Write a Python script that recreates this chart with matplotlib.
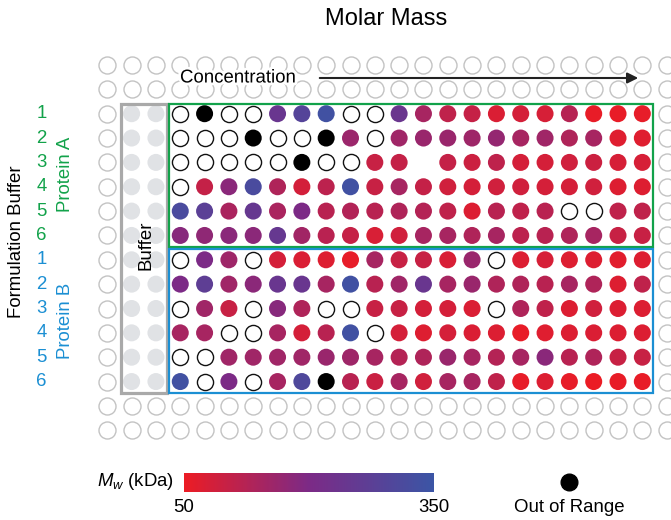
import numpy as np
import matplotlib
matplotlib.use("Agg")
import matplotlib.pyplot as plt
import matplotlib.patheffects as pe
from matplotlib.colors import LinearSegmentedColormap, Normalize
from matplotlib.cm import ScalarMappable
from matplotlib.patches import Rectangle

plt.rcParams['font.family'] = ['Liberation Sans', 'DejaVu Sans']
plt.rcParams['mathtext.fontset'] = 'custom'
plt.rcParams['mathtext.rm'] = 'Liberation Sans'
plt.rcParams['mathtext.it'] = 'Liberation Sans:italic'

# plate layout (384 wells)
n_rows, n_cols = 16, 24
buffer_cols = [1, 2]
data_col0 = 3
row0_a = 2
row0_b = 8

# well codes
E = np.nan    # no result -> open circle
O = np.inf    # out of range -> black
S = -1        # no well drawn

# molar mass (kDa), one row per formulation buffer, 20 concentrations
protein_a = [
    [E, O, E, E, 243, 290, 335, E, E, 240, 143, 110, 102, 75, 82, 80, 122, 55, 55, 58],
    [E, E, E, O, E, E, O, 158, E, 153, 161, 161, 155, 168, 143, 153, 132, 143, 68, 68],
    [E, E, E, E, E, O, E, E, 100, 105, S, 105, 94, 112, 82, 82, 88, 94, 80, 80],
    [E, 105, 182, 316, 132, 85, 115, 335, 100, 143, 105, 88, 82, 88, 88, 82, 82, 88, 70, 70],
    [316, 275, 138, 250, 138, 200, 120, 128, 120, 132, 126, 110, 72, 120, 110, 118, E, E, 110, 110],
    [185, 175, 182, 180, 250, 150, 118, 102, 78, 88, 143, 143, 132, 143, 115, 120, 132, 143, 100, 100],
]
protein_b = [
    [E, 200, 155, E, 82, 75, 70, 58, 143, 100, 100, 78, 161, E, 72, 80, 70, 70, 65, 70],
    [200, 270, 153, 180, 243, 243, 143, 335, 120, 153, 243, 143, 161, 132, 132, 120, 143, 132, 70, 110],
    [E, 153, 100, E, 185, 132, E, E, 100, 100, 82, 82, 75, E, 132, 110, 72, 88, 72, 72],
    [143, 143, E, E, 143, 82, 120, 335, E, 82, 70, 82, 75, 72, 55, 68, 72, 75, 72, 72],
    [E, E, 153, 153, 153, 153, 161, 155, 143, 126, 132, 161, 143, 126, 143, 182, 120, 132, 100, 100],
    [335, E, 200, E, 143, 302, O, 120, 98, 143, 88, 143, 143, 110, 58, 72, 58, 52, 55, 55],
]
buffer_labels = ["1", "2", "3", "4", "5", "6"]
vmin, vmax = 50, 350

green = "#12a24a"
blue = "#1b8fd3"
cmap = LinearSegmentedColormap.from_list("mw", ["#ec1c24", "#7c2a86", "#3b55a5"])
norm = Normalize(vmin, vmax)
fs = 13.4

W, H = 671, 520
fig = plt.figure(figsize=(W / 100, H / 100), dpi=100)
ax = fig.add_axes([0, 0, 1, 1])
dx, dy = 24.32, 24.35
x0, y0 = 107.3, 65.0
ax.set_xlim(-x0 / dx, (W - x0) / dx)
ax.set_ylim((H - y0) / dy, -y0 / dy)
ax.axis("off")

def fx(x):
    return x / W

def fy(y):
    return 1 - y / H

data = np.vstack([np.array(protein_a, float), np.array(protein_b, float)])
data_rows = np.arange(row0_a, row0_a + data.shape[0])
data_cols = np.arange(data_col0, data_col0 + data.shape[1])

# empty plate wells
gx, gy, bx, by = [], [], [], []
for r in range(n_rows):
    for c in range(n_cols):
        in_data = r in data_rows and c in data_cols
        if in_data:
            continue
        if c in buffer_cols and r in data_rows:
            bx.append(c); by.append(r)
        else:
            gx.append(c); gy.append(r)
ax.scatter(gx, gy, s=150, facecolor="white", edgecolor="#c3c3c3", linewidth=1.0, zorder=2)
ax.scatter(bx, by, s=150, facecolor="#e0e2e5", edgecolor="none", zorder=2)

# sample wells
cc, rr = np.meshgrid(data_cols, data_rows)
cc, rr, vals = cc.ravel(), rr.ravel(), data.ravel()
good = np.isfinite(vals) & (vals >= 0)
ax.scatter(cc[good], rr[good], c=vals[good], cmap=cmap, norm=norm, s=150,
           edgecolor="none", zorder=3)
empty = np.isnan(vals)
ax.scatter(cc[empty], rr[empty], s=135, facecolor="white", edgecolor="#111111",
           linewidth=1.0, zorder=3)
oor = np.isinf(vals)
ax.scatter(cc[oor], rr[oor], s=150, color="black", edgecolor="none", zorder=3)

# boxes
ax.add_patch(Rectangle((0.56, 1.6), 1.88, 11.87, fill=False, edgecolor="#a9a9a9",
                       linewidth=2.3, zorder=4))
ax.add_patch(Rectangle((2.54, 1.6), 19.89, 5.87, fill=False, edgecolor=green,
                       linewidth=1.6, zorder=4))
ax.add_patch(Rectangle((2.54, 7.56), 19.89, 5.91, fill=False, edgecolor=blue,
                       linewidth=1.6, zorder=4))

# texts
white = [pe.withStroke(linewidth=4, foreground="white")]
fig.text(fx(386), fy(19), "Molar Mass", ha="center", va="center", fontsize=17)
fig.text(fx(180), fy(78), "Concentration", ha="left", va="center", fontsize=fs,
         path_effects=white, zorder=5)
ax.annotate("", xy=(fx(641), fy(78)), xytext=(fx(317), fy(78)),
            xycoords="figure fraction", textcoords="figure fraction",
            arrowprops=dict(arrowstyle="-|>", color="#222222", lw=1.5,
                            mutation_scale=16), zorder=5)
fig.text(fx(146), fy(245), "Buffer", rotation=90, ha="center", va="center",
         fontsize=fs, zorder=5)
fig.text(fx(17), fy(242), "Formulation Buffer", rotation=90, ha="center",
         va="center", fontsize=fs)
for i, lab in enumerate(buffer_labels):
    ax.text(-2.7, row0_a + i, lab, color=green, ha="center", va="center", fontsize=fs)
    ax.text(-2.7, row0_b + i, lab, color=blue, ha="center", va="center", fontsize=fs)
ax.text(-1.7, row0_a + 2.5, "Protein A", color=green, rotation=90, ha="center",
        va="center", fontsize=fs)
ax.text(-1.7, row0_b + 2.5, "Protein B", color=blue, rotation=90, ha="center",
        va="center", fontsize=fs)

# colour bar
cax = fig.add_axes([fx(184), fy(492), 250 / W, 19 / H])
cb = fig.colorbar(ScalarMappable(norm=norm, cmap=cmap), cax=cax, orientation="horizontal")
cb.outline.set_visible(False)
cb.set_ticks([])
fig.text(fx(174), fy(482), "$M_w$ (kDa)", ha="right", va="center", fontsize=fs)
fig.text(fx(184), fy(507), str(vmin), ha="center", va="center", fontsize=fs)
fig.text(fx(434), fy(507), str(vmax), ha="center", va="center", fontsize=fs)

# out of range key
ax.plot([fx(569)], [fy(482)], "o", color="black", ms=12,
        transform=fig.transFigure, clip_on=False)
fig.text(fx(569), fy(507), "Out of Range", ha="center", va="center", fontsize=fs)

fig.savefig("out.png", dpi=100)
